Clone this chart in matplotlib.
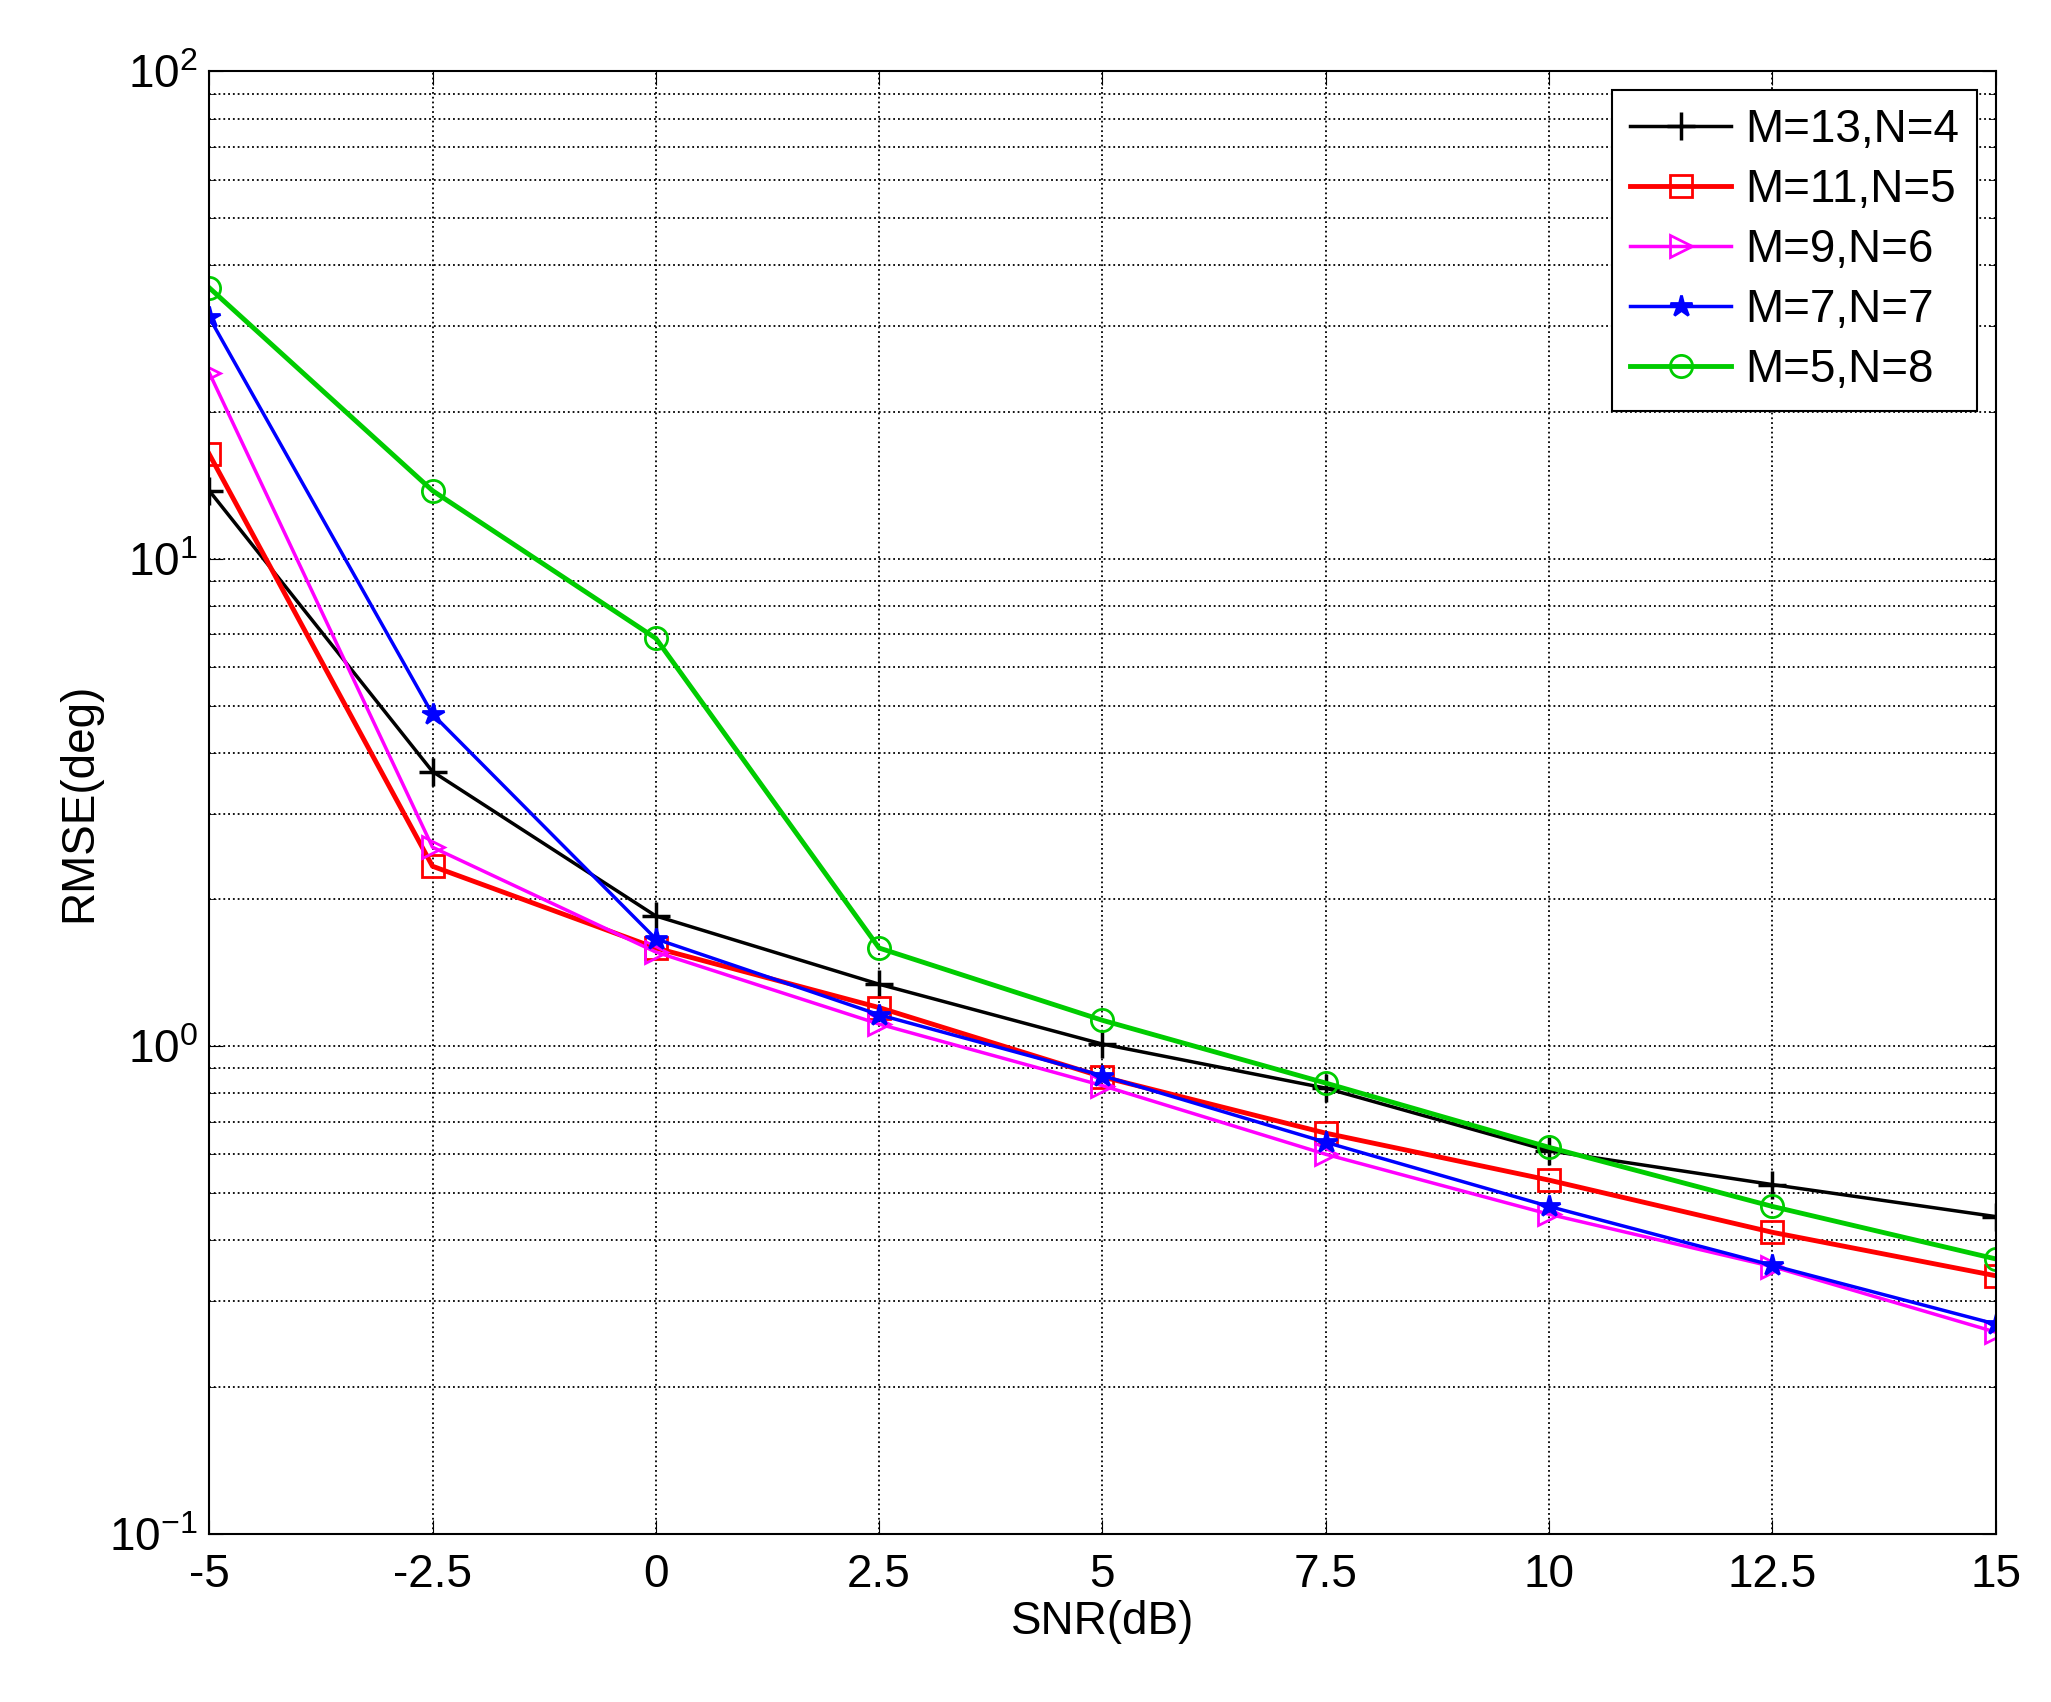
import matplotlib
matplotlib.use("Agg")
import matplotlib.pyplot as plt
from matplotlib.ticker import LogLocator, NullFormatter

snr = [-5, -2.5, 0, 2.5, 5, 7.5, 10, 12.5, 15]
xtick_labels = ["-5", "-2.5", "0", "2.5", "5", "7.5", "10", "12.5", "15"]
labels = ["M=13,N=4", "M=11,N=5", "M=9,N=6", "M=7,N=7", "M=5,N=8"]
black = [13.8, 3.66, 1.85, 1.34, 1.01, 0.82, 0.61, 0.52, 0.447]
red = [16.4, 2.34, 1.59, 1.20, 0.865, 0.663, 0.531, 0.415, 0.338]
magenta = [24.1, 2.56, 1.56, 1.11, 0.83, 0.60, 0.452, 0.353, 0.259]
blue = [31.3, 4.8, 1.66, 1.16, 0.87, 0.635, 0.469, 0.355, 0.269]
green = [36.0, 13.8, 6.87, 1.59, 1.13, 0.84, 0.62, 0.469, 0.366]

plt.rcParams["font.family"] = "Liberation Sans"
fig = plt.figure(figsize=(20.51, 17.02), dpi=100)
ax = fig.add_axes([0.102, 0.099, 0.871, 0.859])

ms = 16
ax.plot(snr, black, color="black", marker="+", ms=ms + 4, mew=2.5, lw=2.5, label=labels[0])
ax.plot(snr, red, color="red", marker="s", ms=ms, mfc="none", mew=2, lw=3.5, label=labels[1])
ax.plot(snr, magenta, color="magenta", marker=">", ms=ms, mfc="none", mew=2, lw=2.5, label=labels[2])
ax.plot(snr, blue, color="blue", marker="*", ms=ms, mew=2, lw=2.5, label=labels[3])
ax.plot(snr, green, color="#00cc00", marker="o", ms=ms, mfc="none", mew=2, lw=3.5, label=labels[4])

ax.set_yscale("log")
ax.set_xlim(-5, 15)
ax.set_ylim(0.1, 100)
ax.set_xticks(snr)
ax.set_xticklabels(xtick_labels)
ax.yaxis.set_minor_locator(LogLocator(base=10, subs=range(2, 10)))
ax.yaxis.set_minor_formatter(NullFormatter())
ax.grid(True, which="major", linestyle=":", color="black", lw=1.3)
ax.grid(True, which="minor", axis="y", linestyle=":", color="black", lw=1.3)
ax.tick_params(labelsize=33, direction="in", length=10, top=True, right=True)
ax.tick_params(axis="x", pad=14)
ax.tick_params(axis="y", pad=8)
ax.tick_params(which="minor", direction="in", length=5, right=True)
ax.set_xlabel("SNR(dB)", fontsize=33, labelpad=2)
ax.set_ylabel("RMSE(deg)", fontsize=33, labelpad=6)
for s in ax.spines.values():
    s.set_linewidth(1.5)
leg = ax.legend(loc="upper right", fontsize=33, fancybox=False, edgecolor="black",
                framealpha=1, handlelength=2.2, handletextpad=0.3, labelspacing=0.35,
                borderaxespad=0.4)
leg.get_frame().set_linewidth(1.5)
fig.savefig("out.png", dpi=100, facecolor="white")
